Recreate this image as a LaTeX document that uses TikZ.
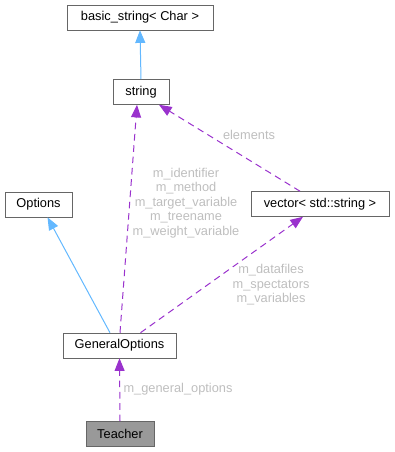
\documentclass[tikz,border=0pt]{standalone}
\usepackage{fontspec}
\setmainfont{Liberation Sans}
\usetikzlibrary{arrows.meta,calc}
\definecolor{Frame}{HTML}{666666}
\definecolor{Inherit}{HTML}{63B8FF}
\definecolor{Usage}{HTML}{9A32CD}
\definecolor{Label}{HTML}{BEBEBE}
\definecolor{Focus}{HTML}{999999}

\begin{document}
\begin{tikzpicture}[x=0.75pt,y=-0.75pt,font=\fontsize{9.6}{10.9}\selectfont,
    cls/.style={draw=Frame,fill=white,minimum height=18.75pt,inner sep=0pt},
    inh/.style={draw=Inherit,line width=0.75pt,-{Triangle[length=9.5pt,width=7.5pt]}},
    use/.style={draw=Usage,line width=0.75pt,dash pattern=on 5pt off 3.5pt,
      -{Triangle[length=9.5pt,width=7.5pt]}},
    lbl/.style={text=Label,align=center,inner sep=0pt}]
    \useasboundingbox (0,0) rectangle (395,452);
    % classes
    \node[cls,minimum width=109.5pt] (basic) at (140,17.5) {basic\_string< Char >};
    \node[cls,minimum width=42pt] (str) at (141,92) {string};
    \node[cls,minimum width=50pt] (opts) at (38.5,204.5) {Options};
    \node[cls,minimum width=103.5pt] (vec) at (320,204) {vector< std::string >};
    \node[cls,minimum width=84.75pt] (gen) at (119.5,345.5) {GeneralOptions};
    \node[cls,fill=Focus,minimum width=51pt] (teacher) at (120,434) {Teacher};
    % inheritance
    \draw[inh] (str.north) -- (basic.south);
    \draw[inh] ($(gen.north)+(-9.5,0)$) -- ($(opts.south)+(9,0)$);
    % members
    \draw[use] ($(gen.north)+(0.5,0)$) -- ($(str.south)+(-4,0)$);
    \draw[use] ($(gen.north)+(21,0)$) -- ($(vec.south)+(-17,0)$);
    \draw[use] ($(vec.north)+(-20,0)$) -- ($(str.south)+(18,0)$);
    \draw[use] (teacher.north) -- (gen.south);
    % labels
    \node[lbl] (lblstr) at (186,203) {m\_identifier\\m\_method\\m\_target\_variable\\m\_treename\\m\_weight\_variable};
    \node[lbl] (lblvec) at (271,285) {m\_datafiles\\m\_spectators\\m\_variables};
    \node[lbl] (lblelem) at (249,135) {elements};
    \node[lbl] (lblgen) at (178,389) {m\_general\_options};
\end{tikzpicture}
\end{document}
